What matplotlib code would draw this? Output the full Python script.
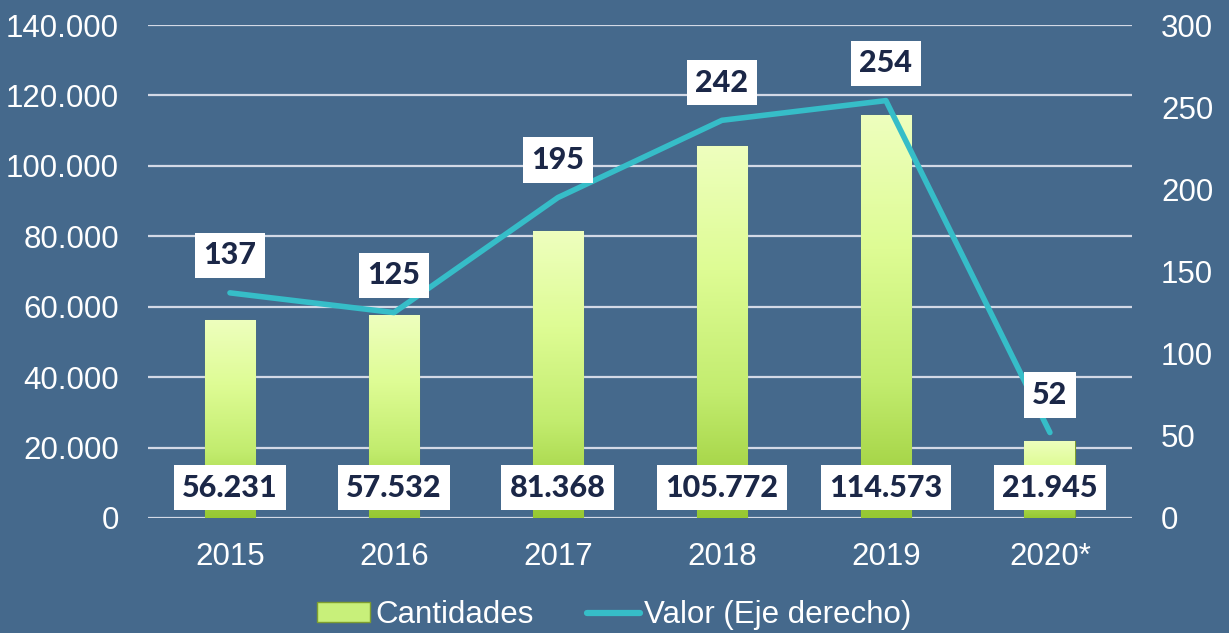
import numpy as np
import matplotlib
matplotlib.use("Agg")
import matplotlib.pyplot as plt
from matplotlib.patches import Patch
from matplotlib.lines import Line2D
from matplotlib.colors import LinearSegmentedColormap
import matplotlib.transforms as mtransforms

# data
years = ["2015", "2016", "2017", "2018", "2019", "2020*"]
cantidades = [56231, 57532, 81368, 105772, 114573, 21945]
valor = [137, 125, 195, 242, 254, 52]
cant_labels = ["56.231", "57.532", "81.368", "105.772", "114.573", "21.945"]
left_ticks = [0, 20000, 40000, 60000, 80000, 100000, 120000, 140000]
left_ticklabels = ["0", "20.000", "40.000", "60.000", "80.000", "100.000", "120.000", "140.000"]
right_ticks = [0, 50, 100, 150, 200, 250, 300]

bg = "#45698C"
line_col = "#36BDC8"
label_col = "#1B2747"
grid_col = "#D3D9E6"

plt.rcParams['font.family'] = ['Liberation Sans', 'DejaVu Sans']

fig = plt.figure(figsize=(12.29, 6.33), dpi=100, facecolor=bg)
ax = fig.add_axes([0.1204, 0.1817, 0.8006, 0.7788])
ax.set_facecolor(bg)
x = np.arange(len(years))

ax.set_yticks(left_ticks)
ax.set_yticklabels(left_ticklabels)
ax.yaxis.grid(True, color=grid_col, linewidth=1.6)
ax.set_axisbelow(True)
for s in ax.spines.values():
    s.set_visible(False)
ax.tick_params(axis='both', length=0, colors='white', labelsize=22.5)
ax.tick_params(axis='y', pad=21)
ax.tick_params(axis='x', pad=17)
ax.set_xticks(x)
ax.set_xticklabels(years)

# gradient bars
cmap = LinearSegmentedColormap.from_list("g", ["#96C832", "#C2EC6E", "#DEFC94", "#EEFFBE"])
grad = np.linspace(0, 1, 256).reshape(-1, 1)
bars = ax.bar(x, cantidades, width=0.31, color="#C8F07A", edgecolor="#7E9E30", linewidth=0.8, zorder=2)
for b in bars:
    bx, by = b.get_x(), b.get_y()
    bw, bh = b.get_width(), b.get_height()
    im = ax.imshow(grad, cmap=cmap, aspect='auto', origin='lower',
                   extent=[bx, bx + bw, by, by + bh], zorder=2.1)
    im.set_clip_path(b)
ax.set_xlim(-0.5, len(years) - 0.5)
ax.set_ylim(0, 140000)

# bar labels
trans = mtransforms.blended_transform_factory(ax.transData, ax.transAxes)
for xi, lab in zip(x, cant_labels):
    ax.text(xi, 0.061, lab, transform=trans, ha='center', va='center',
            fontsize=22, fontweight='black', color=label_col, family=['Lato', 'DejaVu Sans'],
            bbox=dict(boxstyle='square,pad=0.28', fc='white', ec='none'), zorder=5)

# right axis line
ax2 = ax.twinx()
ax2.set_ylim(0, 300)
ax2.set_yticks(right_ticks)
for s in ax2.spines.values():
    s.set_visible(False)
ax2.tick_params(axis='y', length=0, colors='white', labelsize=22.5, pad=21)
ax2.plot(x, valor, color=line_col, linewidth=4, solid_capstyle='round', zorder=3)
for xi, v in zip(x, valor):
    ax2.annotate(str(v), (xi, v), xytext=(0, 27), textcoords='offset points',
                 ha='center', va='center', fontsize=22, fontweight='black',
                 color=label_col, family=['Lato', 'DejaVu Sans'],
                 bbox=dict(boxstyle='square,pad=0.28', fc='white', ec='none'), zorder=6)

handles = [Patch(facecolor="#C8F07A", edgecolor="#7E9E30", label="Cantidades"),
           Line2D([0], [0], color=line_col, linewidth=4.5, solid_capstyle='round', label="Valor (Eje derecho)")]
leg = fig.legend(handles=handles, loc='lower center', bbox_to_anchor=(0.5, -0.04), ncol=2,
                 frameon=False, fontsize=22.5, handlelength=1.7, handleheight=0.6,
                 handletextpad=0.15, columnspacing=1.7, labelcolor='white')

fig.savefig("out.png", dpi=100, facecolor=bg)
